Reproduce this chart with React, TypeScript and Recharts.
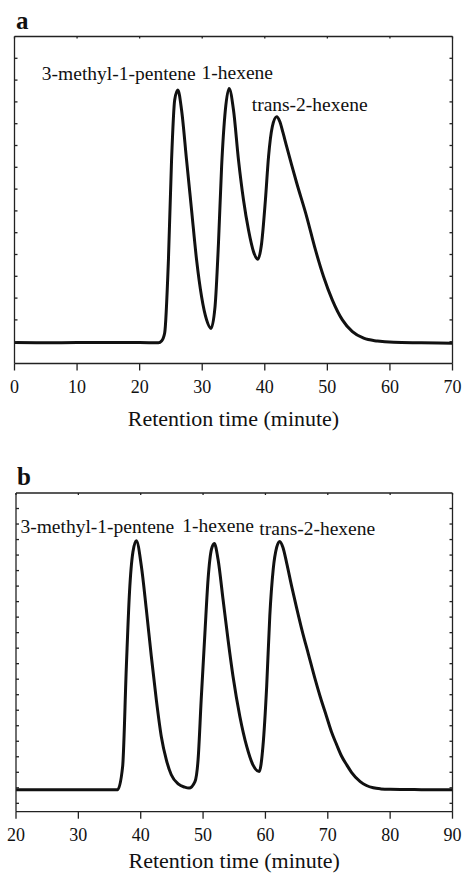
import React from 'react';
import { LineChart, Line, XAxis, YAxis, ReferenceDot } from 'recharts';

const FONT = '"Liberation Serif", "Times New Roman", Times, serif';
const INK = '#111';

// Panel a: retention time (min) and detector signal (arbitrary units)
const timeA = [0, 5, 10, 15, 20, 23.0, 23.5, 24.0, 24.6, 25.1, 25.6, 26.1, 26.7, 27.5, 28.3, 29.1, 29.9, 30.7, 31.4, 32.05, 32.6, 33.1, 33.7, 34.3, 35.0, 35.8, 36.6, 37.4, 38.2, 38.9, 39.5, 40.1, 40.6, 41.2, 41.9, 42.4, 42.9, 43.5, 44.3, 45.1, 46.7, 48.1, 49.4, 50.8, 52.4, 54.0, 55.8, 58.0, 60.6, 65, 70];
const signalA = [0.96, 0.95, 0.96, 0.96, 0.96, 0.95, 1.03, 1.4, 4.75, 9.33, 12.09, 12.55, 11.63, 9.33, 7.04, 4.75, 3.06, 2.0, 1.61, 2.61, 5.53, 9.03, 11.63, 12.62, 11.63, 9.33, 7.5, 6.12, 5.13, 4.78, 5.53, 7.5, 9.49, 10.86, 11.32, 11.1, 10.6, 9.95, 9.1, 8.28, 6.73, 5.21, 3.98, 2.91, 2.0, 1.46, 1.16, 1.03, 0.97, 0.95, 0.93];
const xTicksA = [0, 10, 20, 30, 40, 50, 60, 70];
const yTicksA = [1, 2, 3, 4, 5, 6, 7, 8, 9, 10, 11, 12, 13, 14];
const peakNamesA = ['3-methyl-1-pentene', '1-hexene', 'trans-2-hexene'];
const labelTimeA = [16.66, 35.6, 47.17];
const labelSignalA = [13.32, 13.35, 11.9];

// Panel b
const timeB = [20, 25, 30, 35, 36.3, 37.1, 37.7, 38.2, 38.75, 39.3, 40.1, 40.9, 41.7, 42.5, 43.3, 44.1, 44.9, 46.0, 47.05, 47.75, 48.7, 49.2, 49.7, 50.3, 50.8, 51.35, 51.8, 52.4, 53.2, 54.0, 54.8, 55.9, 57.0, 58.0, 59.0, 59.6, 60.2, 60.7, 61.25, 61.8, 62.3, 62.8, 63.4, 64.2, 65.0, 65.9, 66.9, 67.9, 68.8, 69.8, 70.6, 71.4, 72.2, 73.0, 73.8, 75.2, 76.2, 77.3, 78.5, 80.0, 85, 90];
const signalB = [0.88, 0.87, 0.87, 0.87, 0.88, 2.37, 8.84, 13.6, 16.2, 16.92, 15.3, 12.5, 9.48, 6.68, 4.31, 2.81, 1.84, 1.25, 1.04, 0.98, 1.4, 2.81, 6.68, 11.0, 14.44, 16.38, 16.75, 15.73, 13.15, 10.56, 8.19, 5.6, 3.67, 2.48, 2.05, 3.67, 7.54, 12.07, 15.09, 16.49, 16.88, 16.5, 15.5, 14.0, 12.6, 11.1, 9.6, 8.1, 6.85, 5.6, 4.6, 3.8, 3.05, 2.5, 2.0, 1.4, 1.15, 1.0, 0.93, 0.9, 0.88, 0.87];
const xTicksB = [20, 30, 40, 50, 60, 70, 80, 90];
const yTicksB = [0, 1, 2, 3, 4, 5, 6, 7, 8, 9, 10, 11, 12, 13, 14, 15, 16, 17, 18, 19];
const peakNamesB = ['3-methyl-1-pentene', '1-hexene', 'trans-2-hexene'];
const labelTimeB = [33.04, 52.41, 68.31];
const labelSignalB = [17.84, 17.94, 17.73];

const xTitle = 'Retention time (minute)';

type PanelProps = {
  letter: string;
  top: number;
  width: number;
  height: number;
  margin: { top: number; right: number; bottom: number; left: number };
  times: number[];
  signal: number[];
  xDomain: [number, number];
  xTicks: number[];
  yDomain: [number, number];
  yTicks: number[];
  names: string[];
  lt: number[];
  ls: number[];
  axisHeight: number;
  titleOffset: number;
  letterTop: number;
  letterLeft: number;
};

const EmptyTick = () => <g />;

function Panel(p: PanelProps) {
  const data = p.times.map((t, i) => ({ t, v: p.signal[i] }));
  const axisStroke = { stroke: '#222', strokeWidth: 1.3 };
  return (
    <div style={{ position: 'absolute', left: 0, top: p.top, width: p.width, height: p.height }}>
      <div
        style={{
          position: 'absolute',
          left: p.letterLeft,
          top: p.letterTop,
          fontFamily: FONT,
          fontWeight: 'bold',
          fontSize: 25,
          lineHeight: '25px',
          color: INK,
        }}
      >
        {p.letter}
      </div>
      <LineChart width={p.width} height={p.height} data={data} margin={p.margin}>
        <XAxis
          dataKey="t"
          type="number"
          domain={p.xDomain}
          ticks={p.xTicks}
          interval={0}
          allowDataOverflow
          height={p.axisHeight}
          tickSize={7}
          tickMargin={10}
          axisLine={axisStroke}
          tickLine={axisStroke}
          tick={{ fontSize: 18, fill: INK, fontFamily: FONT }}
          label={{
            value: xTitle,
            position: 'insideBottom',
            offset: p.titleOffset,
            style: { fontSize: 22, fill: INK, fontFamily: FONT },
          }}
        />
        <XAxis
          xAxisId="top"
          dataKey="t"
          type="number"
          orientation="top"
          mirror
          height={1}
          domain={p.xDomain}
          ticks={p.xTicks}
          interval={0}
          allowDataOverflow
          tickSize={2}
          tick={EmptyTick}
          axisLine={axisStroke}
          tickLine={axisStroke}
        />
        <YAxis
          type="number"
          domain={p.yDomain}
          ticks={p.yTicks}
          interval={0}
          allowDataOverflow
          mirror
          width={1}
          tickSize={3}
          tick={EmptyTick}
          axisLine={axisStroke}
          tickLine={axisStroke}
        />
        <YAxis
          yAxisId="right"
          orientation="right"
          type="number"
          domain={p.yDomain}
          ticks={p.yTicks}
          interval={0}
          allowDataOverflow
          mirror
          width={1}
          tickSize={3}
          tick={EmptyTick}
          axisLine={axisStroke}
          tickLine={axisStroke}
        />
        <Line
          xAxisId="top"
          yAxisId="right"
          dataKey="v"
          type="monotone"
          stroke="none"
          dot={false}
          activeDot={false}
          isAnimationActive={false}
        />
        <Line
          dataKey="v"
          type="monotone"
          stroke={INK}
          strokeWidth={3}
          dot={false}
          activeDot={false}
          isAnimationActive={false}
        />
        {p.names.map((name, i) => (
          <ReferenceDot
            key={name}
            x={p.lt[i]}
            y={p.ls[i]}
            r={0}
            fill="none"
            stroke="none"
            ifOverflow="visible"
            label={{
              value: name,
              position: 'center',
              style: { fontSize: 19.5, fill: INK, fontFamily: FONT },
            }}
          />
        ))}
      </LineChart>
    </div>
  );
}

export default function App() {
  return (
    <div style={{ position: 'absolute', left: 0, top: 0, width: 462, height: 874, background: '#fff', overflow: 'hidden' }}>
      <Panel
        letter="a"
        top={0}
        width={462}
        height={440}
        margin={{ top: 36.5, right: 9.5, bottom: 12.5, left: 14.5 }}
        times={timeA}
        signal={signalA}
        xDomain={[0, 70]}
        xTicks={xTicksA}
        yDomain={[0, 15]}
        yTicks={yTicksA}
        names={peakNamesA}
        lt={labelTimeA}
        ls={labelSignalA}
        axisHeight={64}
        titleOffset={1.8}
        letterTop={8}
        letterLeft={16}
      />
      <Panel
        letter="b"
        top={440}
        width={462}
        height={434}
        margin={{ top: 53, right: 9.5, bottom: 0.3, left: 16 }}
        times={timeB}
        signal={signalB}
        xDomain={[20, 90]}
        xTicks={xTicksB}
        yDomain={[-0.54, 20]}
        yTicks={yTicksB}
        names={peakNamesB}
        lt={labelTimeB}
        ls={labelSignalB}
        axisHeight={62}
        titleOffset={5.7}
        letterTop={24}
        letterLeft={17}
      />
    </div>
  );
}
